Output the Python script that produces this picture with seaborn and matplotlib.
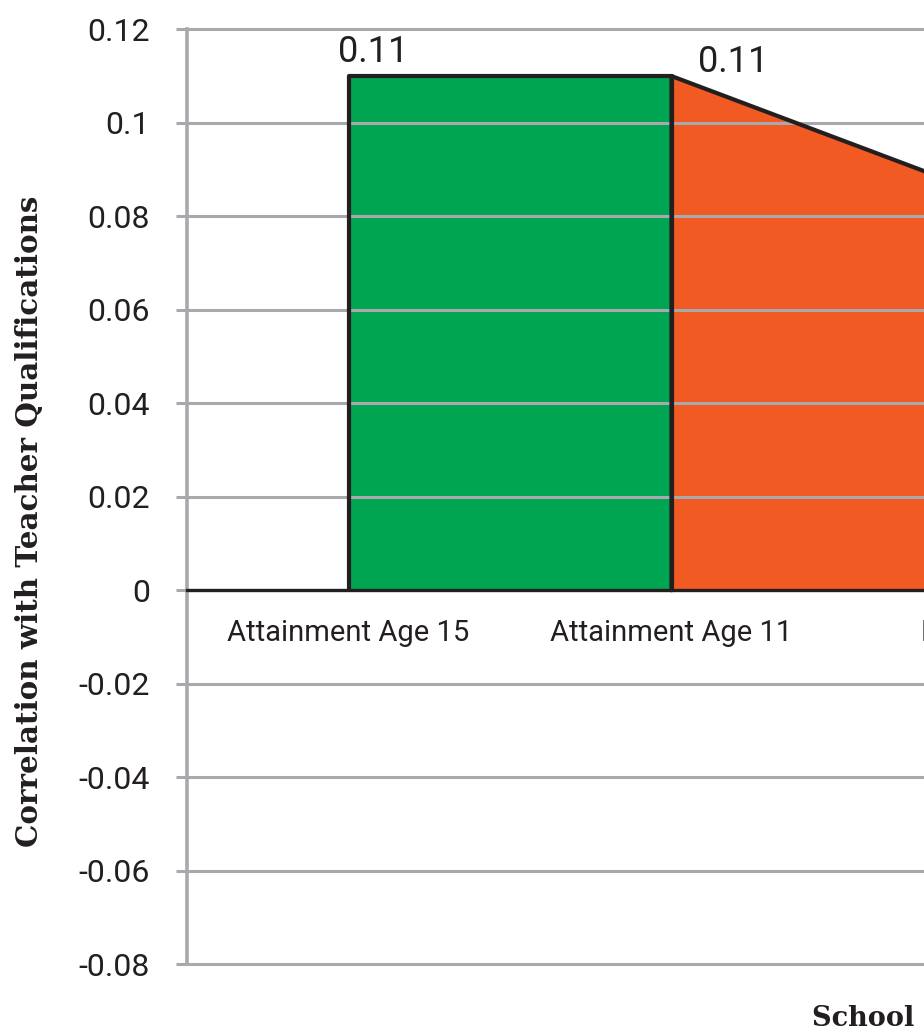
import matplotlib
matplotlib.use("Agg")
import matplotlib.pyplot as plt
import numpy as np
import seaborn as sns

# Outcome categories along the x axis
categories = ["Attainment Age 15", "Attainment Age 11", "Destination"]

# Each coloured band spans two neighbouring outcomes
green_values = [0.11, 0.11, np.nan]
orange_values = [np.nan, 0.11, 0.084]

# Value labels: (category index, value)
label_points = [(0, 0.11), (1, 0.11)]

y_ticks = [-0.08, -0.06, -0.04, -0.02, 0.0, 0.02, 0.04, 0.06, 0.08, 0.10, 0.12]
y_tick_labels = ["-0.08", "-0.06", "-0.04", "-0.02", "0", "0.02", "0.04",
                 "0.06", "0.08", "0.1", "0.12"]

y_title = "Correlation with Teacher Qualifications"
x_title = "School Outcome"

GREEN = "#00A551"
ORANGE = "#F15A22"
INK = "#231F20"
GRID = "#A7A9AC"

sns.set_theme(style="white")
plt.rcParams["font.family"] = ["Roboto", "DejaVu Sans"]

W, H = 924, 1029
fig = plt.figure(figsize=(W / 100, H / 100), dpi=100)
ax = fig.add_axes([187 / W, 64.7 / H, 969 / W, 935 / H])

x = np.arange(len(categories), dtype=float)


def draw_band(values, color):
    v = np.asarray(values, dtype=float)
    m = ~np.isnan(v)
    xs, ys = x[m], v[m]
    ax.fill_between(xs, 0, ys, color=color, linewidth=0, zorder=1)
    # closed outline of the band
    ox = np.concatenate([[xs[0]], xs, [xs[-1]]])
    oy = np.concatenate([[0.0], ys, [0.0]])
    sns.lineplot(x=ox, y=oy, sort=False, estimator=None, color=INK,
                 linewidth=3.0, ax=ax, zorder=4)


draw_band(green_values, GREEN)
draw_band(orange_values, ORANGE)

# value labels
label_offsets = [(25, 14), (62, 4)]
for (i, v), (dx, dy) in zip(label_points, label_offsets):
    ax.annotate(f"{v:.2f}", xy=(i, v), xytext=(dx, dy),
                textcoords="offset pixels", ha="center", va="baseline",
                fontsize=26, color=INK, zorder=5)

ax.set_xlim(-0.5, len(categories) - 0.5)
ax.set_ylim(-0.08, 0.12)

ax.set_yticks(y_ticks)
ax.set_yticklabels(y_tick_labels)
ax.set_xticks(x)
ax.set_xticklabels(categories)

ax.set_axisbelow(False)
ax.yaxis.grid(True, color=GRID, linewidth=2.2, zorder=2.5)
ax.xaxis.grid(False)
for gl in ax.get_ygridlines():
    gl.set_clip_on(False)

for side in ("top", "right"):
    ax.spines[side].set_visible(False)
ax.spines["left"].set_color(GRID)
ax.spines["left"].set_linewidth(2.6)
ax.spines["bottom"].set_position(("data", 0))
ax.spines["bottom"].set_color(INK)
ax.spines["bottom"].set_linewidth(2.4)
ax.spines["bottom"].set_zorder(3)

ax.tick_params(axis="y", left=True, length=8, width=2.2, color=GRID,
               direction="out", pad=18.5, labelsize=23, labelcolor=INK)
ax.tick_params(axis="x", bottom=True, length=0, pad=21, labelsize=21,
               labelcolor=INK)

ax.set_xlabel("")
ax.set_ylabel("")

fig.text(29.5 / W, 1 - 521 / H, y_title, rotation=90, ha="center",
         va="center", family="DejaVu Serif", fontweight="bold",
         fontsize=21.2, color=INK)
fig.text(812 / W, 1 - 1026 / H, x_title, ha="left", va="baseline",
         family="DejaVu Serif", fontweight="bold", fontsize=19.5, color=INK)

fig.savefig("out.png", dpi=100)
